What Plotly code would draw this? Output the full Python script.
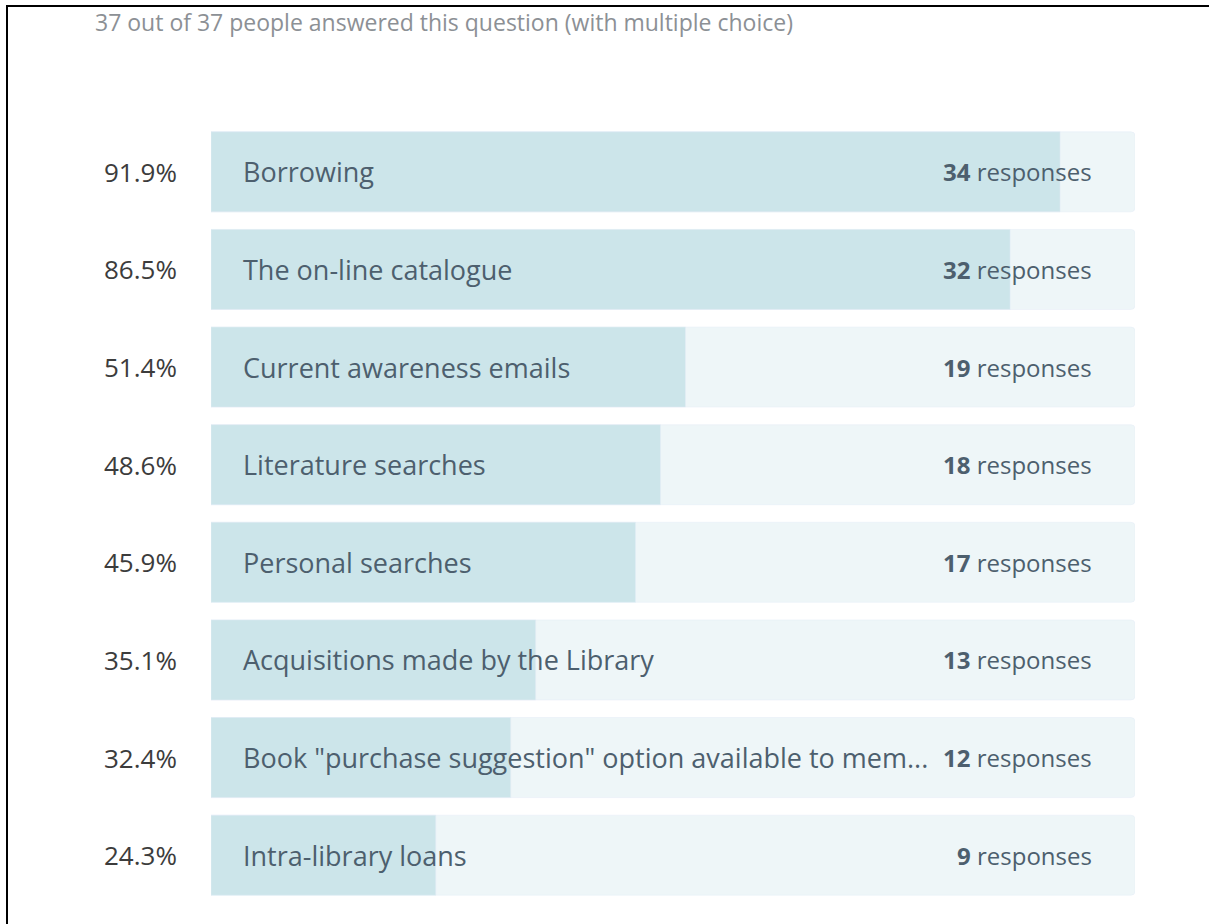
import plotly.graph_objects as go

# survey data
total_answered = 37
categories = [
    "Borrowing",
    "The on-line catalogue",
    "Current awareness emails",
    "Literature searches",
    "Personal searches",
    "Acquisitions made by the Library",
    'Book "purchase suggestion" option available to mem...',
    "Intra-library loans",
]
responses = [34, 32, 19, 18, 17, 13, 12, 9]

FILL = "#cce5ea"
TRACK = "#eef6f8"
LABEL_COL = "#4d5f6e"
PCT_COL = "#3c3c3c"
FONT = "Open Sans, Roboto, sans-serif"

fig = go.Figure()

# background track (full width = everyone who answered)
fig.add_trace(go.Bar(
    y=categories, x=[total_answered] * len(categories),
    orientation="h", marker=dict(color=TRACK, cornerradius=4),
    width=0.82, hoverinfo="skip", showlegend=False,
))
# filled part
fig.add_trace(go.Bar(
    y=categories, x=responses,
    orientation="h", marker=dict(color=FILL, cornerradius=4),
    width=0.82, hoverinfo="skip", showlegend=False,
))

annotations = []
for cat, n in zip(categories, responses):
    pct = n / total_answered * 100
    annotations.append(dict(
        x=0, y=cat, xref="x", yref="y", xanchor="right", xshift=-32,
        text=f"{pct:.1f}%", showarrow=False,
        font=dict(family=FONT, size=26, color=PCT_COL),
    ))
    annotations.append(dict(
        x=0, y=cat, xref="x", yref="y", xanchor="left", xshift=30,
        text=cat, showarrow=False,
        font=dict(family=FONT, size=27, color=LABEL_COL),
    ))
    annotations.append(dict(
        x=total_answered, y=cat, xref="x", yref="y", xanchor="right", xshift=-41,
        text=f"<b>{n}</b> responses", showarrow=False,
        font=dict(family=FONT, size=24, color=LABEL_COL),
    ))

W, H = 1209, 924
PW, PH = W - 211 - 74, H - 123 - 20

fig.update_layout(
    width=W, height=H,
    barmode="overlay",
    margin=dict(l=211, r=74, t=123, b=20),
    paper_bgcolor="white",
    plot_bgcolor="white",
    title=dict(
        text="37 out of 37 people answered this question (with multiple choice)",
        x=95 / W, xanchor="left", xref="container",
        y=1 - 23 / H, yanchor="middle", yref="container",
        font=dict(family=FONT, size=23, color="#8c9095"),
    ),
    xaxis=dict(range=[0, total_answered], visible=False, fixedrange=True),
    yaxis=dict(autorange="reversed", visible=False, fixedrange=True),
    annotations=annotations,
    shapes=[
        # screenshot frame, top and left edges
        dict(type="line", xref="paper", yref="paper",
             x0=-205 / PW, x1=(W - 211) / PW,
             y0=1 + (123 - 6) / PH, y1=1 + (123 - 6) / PH,
             line=dict(color="black", width=2)),
        dict(type="line", xref="paper", yref="paper",
             x0=-204 / PW, x1=-204 / PW,
             y0=1 + (123 - 6) / PH, y1=-20 / PH,
             line=dict(color="black", width=2)),
    ],
)

fig.write_html("out.html", config={"displayModeBar": False},
               post_script="document.body.style.margin='0';")
